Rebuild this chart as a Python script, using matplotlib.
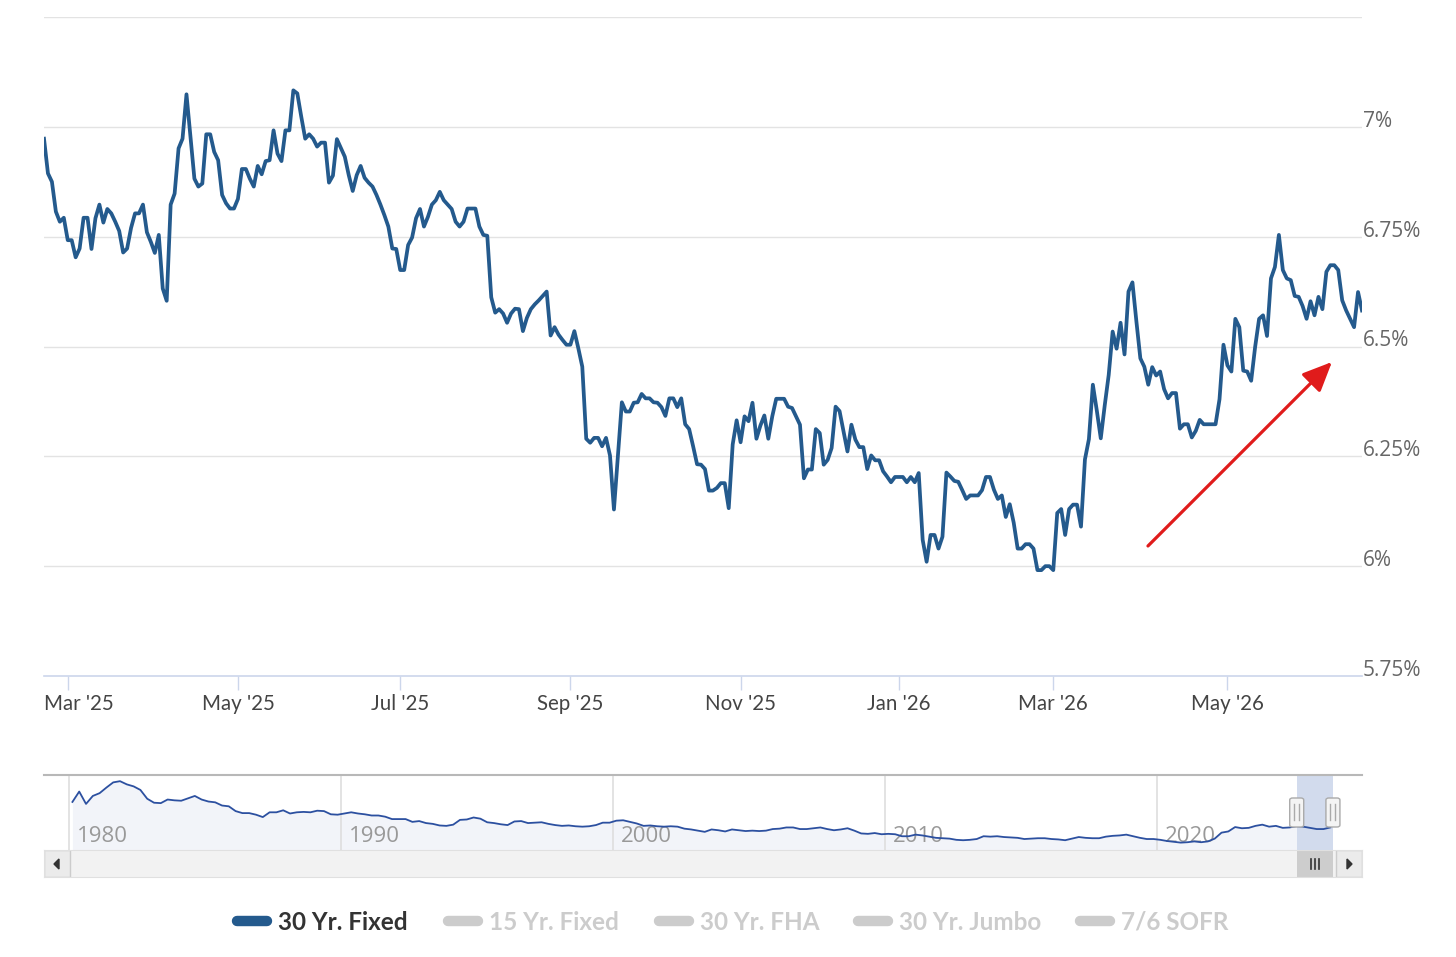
import matplotlib
matplotlib.use("Agg")
import matplotlib.pyplot as plt
from matplotlib.lines import Line2D
from matplotlib.patches import Rectangle, FancyBboxPatch, Polygon
import matplotlib.transforms as mtransforms
import numpy as np
import pandas as pd
from pandas.tseries.holiday import USFederalHolidayCalendar
from pandas.tseries.offsets import CustomBusinessDay

# ---------------- data ----------------
start_date = "2025-02-21"
rates_30yr = [
    6.973, 6.894, 6.875, 6.807, 6.784, 6.793, 6.742, 6.742, 6.703, 6.723,
    6.793, 6.793, 6.722, 6.792, 6.823, 6.782, 6.813, 6.803, 6.784, 6.763,
    6.714, 6.723, 6.770, 6.803, 6.803, 6.823, 6.760, 6.738, 6.713, 6.754,
    6.632, 6.604, 6.823, 6.848, 6.951, 6.973, 7.074, 6.977, 6.882, 6.864,
    6.871, 6.983, 6.983, 6.943, 6.924, 6.845, 6.826, 6.814, 6.814, 6.836,
    6.904, 6.904, 6.882, 6.864, 6.911, 6.892, 6.922, 6.924,
    6.992, 6.939, 6.922, 6.992, 6.992, 7.083, 7.076, 7.023, 6.973, 6.983,
    6.973, 6.955, 6.964, 6.964, 6.873, 6.889, 6.972, 6.952, 6.932, 6.890,
    6.854, 6.890, 6.911, 6.884, 6.873, 6.864, 6.845, 6.823, 6.799, 6.773,
    6.723, 6.722, 6.674, 6.674, 6.731, 6.748, 6.792, 6.813, 6.773, 6.795,
    6.823, 6.833, 6.852, 6.833, 6.823, 6.813, 6.784, 6.773, 6.784, 6.814,
    6.814, 6.814, 6.773, 6.754, 6.752,
    6.612,
    6.577, 6.585, 6.575, 6.554, 6.575, 6.586, 6.585, 6.535, 6.565, 6.585,
    6.596, 6.605, 6.615, 6.625, 6.525, 6.544, 6.527, 6.515, 6.504, 6.504,
    6.535, 6.496, 6.454, 6.290, 6.281, 6.292, 6.292, 6.273, 6.292, 6.252,
    6.129, 6.250, 6.373, 6.352, 6.352, 6.372, 6.373, 6.392, 6.382, 6.382,
    6.373, 6.372, 6.362, 6.342, 6.382, 6.382, 6.362, 6.382, 6.323, 6.312,
    6.273, 6.232, 6.231, 6.221, 6.172, 6.172,
    6.178, 6.189, 6.189, 6.132, 6.277, 6.332, 6.282, 6.341, 6.330, 6.372,
    6.290, 6.320, 6.343, 6.290, 6.341, 6.381, 6.381, 6.381, 6.363, 6.360,
    6.341, 6.322, 6.200, 6.220, 6.220, 6.312, 6.303, 6.231, 6.242, 6.269,
    6.363, 6.353, 6.307, 6.261, 6.322, 6.288, 6.271, 6.271, 6.221, 6.252,
    6.241, 6.241, 6.216, 6.204, 6.191, 6.203, 6.203, 6.203, 6.191, 6.203,
    6.191, 6.212, 6.060, 6.010, 6.071,
    6.071, 6.040, 6.067, 6.213, 6.204, 6.194, 6.192, 6.173, 6.153, 6.161,
    6.161, 6.161, 6.173, 6.203, 6.203, 6.174, 6.153, 6.161, 6.112, 6.141,
    6.099, 6.040, 6.040, 6.050, 6.050, 6.040, 5.991, 5.991, 6.000, 6.000,
    5.991, 6.121, 6.130, 6.071, 6.130, 6.140, 6.140, 6.090, 6.243, 6.289,
    6.413, 6.354, 6.291, 6.366, 6.435, 6.534, 6.495, 6.554, 6.482, 6.625,
    6.646, 6.557, 6.473, 6.454, 6.413,
    6.453, 6.434, 6.443, 6.403, 6.382, 6.394, 6.394, 6.313, 6.323, 6.323,
    6.293, 6.308, 6.333, 6.323, 6.323, 6.323, 6.323, 6.380, 6.504, 6.457,
    6.443, 6.563, 6.544, 6.445, 6.443, 6.422, 6.499, 6.563, 6.571, 6.524,
    6.655, 6.681, 6.754, 6.674, 6.655, 6.651, 6.615, 6.613, 6.592, 6.563,
    6.603, 6.571, 6.613, 6.585, 6.670, 6.685, 6.685, 6.674, 6.605, 6.582,
    6.563, 6.544, 6.624, 6.582,
]
y_ticks = [5.75, 6.0, 6.25, 6.5, 6.75, 7.0, 7.25]
y_labeled = [5.75, 6.0, 6.25, 6.5, 6.75, 7.0]
tick_months = ["2025-03", "2025-05", "2025-07", "2025-09", "2025-11",
               "2026-01", "2026-03", "2026-05"]

# navigator: quarterly history 1980 Q1 .. 2026 Q2
nav_start_year = 1980
nav_rates = [
    13.0, 15.6, 12.5, 14.5, 15.2, 16.6, 17.9, 18.2, 17.4, 16.9, 16.0, 13.8,
    12.8, 12.7, 13.6, 13.4, 13.3, 13.9, 14.5, 13.6, 13.1, 12.9, 12.1, 11.9,
    10.7, 10.2, 10.2, 9.8, 9.2, 10.4, 10.4, 10.9, 10.1, 10.4, 10.5, 10.4,
    10.8, 10.7, 9.9, 9.8, 10.1, 10.4, 10.1, 9.9, 9.6, 9.6, 9.3, 8.7,
    8.7, 8.7, 8.0, 8.2, 7.7, 7.5, 7.1, 7.0, 7.3, 8.5, 8.6, 9.1,
    8.8, 7.9, 7.7, 7.4, 7.2, 8.1, 8.2, 7.7, 7.8, 7.9, 7.5, 7.2,
    7.0, 7.1, 6.9, 6.8, 6.9, 7.2, 7.8, 7.8, 8.3, 8.4, 8.0, 7.6,
    7.0, 7.1, 6.9, 6.8, 6.9, 6.8, 6.3, 6.1, 5.8, 5.5, 6.1, 5.9,
    5.6, 6.1, 5.9, 5.7, 5.8, 5.7, 5.8, 6.2, 6.3, 6.6, 6.6, 6.2,
    6.2, 6.4, 6.6, 6.2, 5.9, 6.1, 6.4, 5.8, 5.1, 5.0, 5.2, 4.9,
    5.0, 4.9, 4.4, 4.4, 4.8, 4.6, 4.3, 4.0, 3.9, 3.8, 3.5, 3.4,
    3.5, 3.7, 4.4, 4.3, 4.4, 4.2, 4.1, 4.0, 3.7, 3.8, 3.9, 3.9,
    3.7, 3.6, 3.4, 3.8, 4.2, 4.0, 3.9, 3.9, 4.3, 4.5, 4.6, 4.8,
    4.4, 4.0, 3.7, 3.7, 3.5, 3.2, 3.0, 2.8, 2.9, 3.1, 2.9, 3.1,
    3.8, 5.3, 5.6, 6.7, 6.4, 6.5, 7.0, 7.3, 6.8, 7.0, 6.5, 6.6,
    6.9, 6.8, 6.5, 6.2, 6.2, 6.6,
]
nav_decades = [1980, 1990, 2000, 2010, 2020]
series_names = ["30 Yr. Fixed", "15 Yr. Fixed", "30 Yr. FHA", "30 Yr. Jumbo", "7/6 SOFR"]
series_active = [True, False, False, False, False]

# ---------------- derived ----------------
N = len(rates_30yr)
bday = CustomBusinessDay(calendar=USFederalHolidayCalendar())
dates = pd.date_range(start_date, periods=N, freq=bday)
idx = np.arange(N)
tick_pos, tick_lab = [], []
for m in tick_months:
    ms = pd.Timestamp(m + "-01")
    i = int(np.argmax(dates >= ms))
    tick_pos.append(i)
    tick_lab.append(ms.strftime("%b '%y"))

def dec_year(d):
    return d.year + (d.dayofyear - 1) / 365.0

nav_x = nav_start_year + 0.125 + 0.25 * np.arange(len(nav_rates))
sel_lo, sel_hi = dec_year(dates[0]), dec_year(dates[-1])

# ---------------- figure ----------------
W, H = 1456, 957
fig = plt.figure(figsize=(W / 100, H / 100), dpi=100)
def fx(p): return p / W
def fy(p): return 1 - p / H

LINE = "#245a8d"
PW = 1318
ax = fig.add_axes([fx(44), fy(676), PW / W, 659 / H])
ax.set_xlim(0, N - 1)
ax.set_ylim(5.75, 7.25)
for v in y_ticks[1:]:
    ax.axhline(v, color="#e3e3e3", lw=1.0, zorder=1)
ax.plot(idx, rates_30yr, color=LINE, lw=2.7, solid_joinstyle="round", zorder=3)
for s in ["top", "right", "left"]:
    ax.spines[s].set_visible(False)
ax.spines["bottom"].set_color("#ccd6eb")
ax.spines["bottom"].set_linewidth(1.2)
ax.set_yticks([])
ax.set_xticks(tick_pos)
ax.set_xticklabels(tick_lab, fontsize=14.8, color="#444444", family="Lato")
ax.tick_params(axis="x", length=10, width=1, color="#ccd6eb", pad=3)
# first label justified to the plot's left edge (as the original does)
first = ax.get_xticklabels()[0]
first.set_horizontalalignment("left")
shift_px = tick_pos[0] / (N - 1) * PW
first.set_transform(first.get_transform() +
                    mtransforms.ScaledTranslation(-shift_px / 100, 0, fig.dpi_scale_trans))
for v in y_labeled:
    ax.text(1.0008, v, f"{v:g}%", transform=ax.get_yaxis_transform(),
            ha="left", va="baseline", fontsize=15, color="#666666",
            family="Open Sans")

ax.annotate("", xy=(0.9772, 0.4765), xytext=(0.8376, 0.1973),
            xycoords="axes fraction",
            arrowprops=dict(arrowstyle="-|>,head_length=0.9,head_width=0.4",
                            mutation_scale=20, color="#e01b1b", lw=2.3,
                            shrinkA=0, shrinkB=0))

# ---------------- navigator ----------------
NX0, NX1 = 1979.08, 2027.54
nav = fig.add_axes([fx(44), fy(850), PW / W, 75 / H])
nav.set_xlim(NX0, NX1)
nav.set_ylim(0.95, 19.75)
nav.fill_between(nav_x, nav_rates, 0.95, color="#f2f4f9", lw=0, zorder=1)
for d in nav_decades:
    nav.axvline(d, color="#dedede", lw=1.2, zorder=1.5)
    nav.annotate(str(d), xy=(d, 0.18), xycoords=("data", "axes fraction"),
                 xytext=(5.5, 0), textcoords="offset points", ha="left",
                 va="center", fontsize=16, color="#999999", family="Open Sans",
                 zorder=1.6)
nav.axvspan(sel_lo, sel_hi, color="#d2dbed", lw=0, zorder=2)
nav.plot(nav_x, nav_rates, color="#2c50a0", lw=1.3, zorder=3)
nav.set_xticks([]); nav.set_yticks([])
for s in ["right", "left", "bottom"]:
    nav.spines[s].set_visible(False)
nav.spines["top"].set_color("#b8b8b8")
nav.spines["top"].set_linewidth(1.5)

def d2px(d):
    return 44 + (d - NX0) / (NX1 - NX0) * PW

for d in (sel_lo, sel_hi):
    cx = d2px(d)
    fig.add_artist(FancyBboxPatch((fx(cx - 7), fy(827)), 14 / W, 29 / H,
                                  boxstyle="round,pad=0,rounding_size=0.002",
                                  facecolor="#f4f4f4", edgecolor="#aaaaaa",
                                  lw=1, transform=fig.transFigure, zorder=5))
    for dx in (-2.5, 2.5):
        fig.add_artist(Line2D([fx(cx + dx)] * 2, [fy(804), fy(820)],
                              color="#aaaaaa", lw=1, zorder=6))

# ---------------- scrollbar ----------------
sb = fig.add_axes([fx(44), fy(877), PW / W, 27 / H])
sb.set_xlim(NX0, NX1)
sb.set_ylim(0, 1)
sb.set_facecolor("#f2f2f2")
sb.set_xticks([]); sb.set_yticks([])
for s in sb.spines.values():
    s.set_color("#e0e0e0")
bw = 26 / PW
sb.add_patch(Rectangle((0, 0), bw, 1, transform=sb.transAxes,
                       facecolor="#ebebeb", edgecolor="#cccccc", lw=1))
sb.add_patch(Rectangle((1 - bw, 0), bw, 1, transform=sb.transAxes,
                       facecolor="#ebebeb", edgecolor="#cccccc", lw=1))
sb.axvspan(sel_lo, sel_hi, color="#cdcdcd", lw=0)
fig.add_artist(Polygon([[fx(54), fy(864)], [fx(59), fy(859)], [fx(59), fy(869)]],
                       closed=True, color="#333333", transform=fig.transFigure))
fig.add_artist(Polygon([[fx(1352), fy(864)], [fx(1347), fy(859)], [fx(1347), fy(869)]],
                       closed=True, color="#333333", transform=fig.transFigure))
cxm = d2px((sel_lo + sel_hi) / 2)
for dx in (-4, 0, 4):
    fig.add_artist(Line2D([fx(cxm + dx)] * 2, [fy(859), fy(869)],
                          color="#333333", lw=1.2))

# ---------------- legend ----------------
leg_sym_x = [232, 443, 654, 853, 1075]
for x0, name, act in zip(leg_sym_x, series_names, series_active):
    col = LINE if act else "#cccccc"
    fig.add_artist(Line2D([fx(x0 + 5), fx(x0 + 35)], [fy(921)] * 2, lw=7.5,
                          color=col, solid_capstyle="round"))
    fig.text(fx(x0 + 46), fy(922), name, ha="left", va="center",
             fontsize=17.5, fontweight="bold", family="Lato",
             color="#333333" if act else "#cccccc")

fig.savefig("out.png", dpi=100, facecolor="white")
